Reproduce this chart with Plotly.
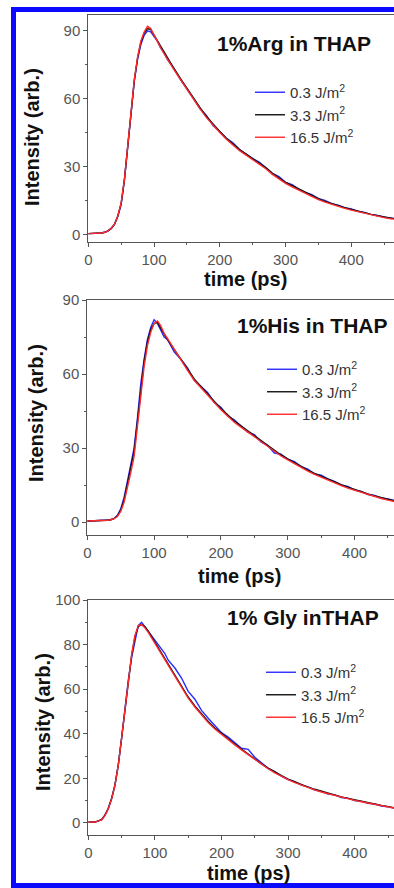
import plotly.graph_objects as go

# ---------------- data ----------------
time_ps = [0, 10, 20, 25, 30, 35, 40, 45, 50, 55, 60, 65, 70, 75, 80, 85, 90, 95, 100, 105,
           110, 115, 120, 130, 140, 150, 160, 170, 180, 190, 200, 210, 220, 230, 240, 250,
           260, 270, 280, 290, 300, 310, 320, 330, 340, 350, 360, 370, 380, 390, 400, 410,
           420, 430, 440, 450, 460, 470]

fluences = ["0.3 J/m<sup>2</sup>", "3.3 J/m<sup>2</sup>", "16.5 J/m<sup>2</sup>"]
colors = ["#2b2bff", "#111111", "#ff2a2a"]

panel_titles = ["1%Arg in THAP", "1%His in THAP", "1% Gly inTHAP"]

# 1% Arg in THAP
arg_03 = [0.3, 0.4, 0.6, 0.9, 1.5, 2.6, 4.6, 8.2, 13.5, 24.5, 39, 55.5, 68, 77.5, 84, 88, 90, 89.5, 87.5, 85.5,
          82.5, 80.5, 77.5, 73.5, 68.5, 64.5, 60, 55.5, 52.5, 48, 45.5, 42.5, 40.5, 37.5, 35.5, 33.5,
          32, 29.5, 27, 25.5, 23, 22, 20, 18.5, 17.5, 15.8, 15, 13.6, 12.9, 11.8, 11.2, 10.2,
          9.7, 8.8, 8.4, 7.6, 7.2, 6.8]
arg_33 = [0.3, 0.4, 0.6, 0.9, 1.5, 2.6, 4.5, 8, 13.5, 24, 39, 55, 68, 78, 85, 89, 91, 90.5, 88, 85.5,
          83, 80.5, 78, 73.5, 69, 64.5, 60, 56, 52, 48.5, 45.5, 42.5, 40, 37.5, 35.5, 33.5,
          31.5, 29.5, 27, 25, 23, 21.5, 20, 18.5, 17, 15.8, 14.6, 13.6, 12.7, 11.8, 11, 10.2,
          9.5, 8.8, 8.2, 7.6, 7.1, 6.7]
arg_165 = [0.3, 0.4, 0.6, 0.9, 1.5, 2.7, 4.6, 8.2, 14, 24.5, 39.5, 55.5, 68.5, 78.5, 85.5, 89.5, 92, 91, 88, 85.5,
           82.5, 80, 77.5, 73, 68.5, 64, 59.5, 55.5, 51.5, 48, 45, 42, 39.5, 37, 35, 33,
           31, 29, 26.5, 24.5, 22.5, 21, 19.5, 18, 16.5, 15.3, 14.2, 13.2, 12.3, 11.5, 10.7, 10,
           9.3, 8.6, 8, 7.4, 6.9, 6.5]

# 1% His in THAP
his_03 = [0.4, 0.5, 0.6, 0.7, 0.8, 1.0, 1.5, 2.8, 5.4, 10, 16.5, 23.5, 30, 42, 56, 66, 74, 79, 82, 80.5,
          78, 75, 74, 69, 66, 62.5, 57.5, 55, 52.5, 48.5, 46.5, 43, 41.5, 39, 36.5, 35.5,
          32.5, 31, 28, 27.5, 25.5, 24.5, 22.5, 21.5, 19.5, 19, 17.5, 16.5, 15, 14.5, 13, 12.5,
          11.2, 10.8, 9.8, 9.4, 8.6, 8.1]
his_33 = [0.5, 0.5, 0.6, 0.7, 0.8, 1.0, 1.4, 2.5, 4.8, 9, 15, 22, 28.5, 41, 54.5, 65, 73, 78, 80.5, 81,
          78.5, 76, 74, 70, 66, 62, 58, 55, 52, 48.8, 46, 43.5, 41, 39, 37, 35,
          33, 31, 29, 27.2, 25.6, 24, 22.5, 21.1, 19.8, 18.6, 17.4, 16.3, 15.2, 14.2, 13.2, 12.3,
          11.4, 10.6, 9.9, 9.2, 8.6, 8.0]
his_165 = [0.5, 0.5, 0.6, 0.7, 0.8, 1.0, 1.4, 2.3, 4.3, 8, 13.5, 20, 26.5, 38, 52, 63, 71.5, 77, 80.5, 81.5,
           79.5, 76.5, 74.5, 70, 65.5, 61.5, 57.5, 54.5, 51.5, 48.5, 45.5, 43, 40.5, 38.5, 36.5, 34.5,
           32.5, 30.5, 28.5, 26.8, 25.2, 23.6, 22.1, 20.7, 19.4, 18.2, 17, 15.9, 14.8, 13.8, 12.9, 12,
           11.1, 10.3, 9.6, 8.9, 8.3, 7.8]

# 1% Gly in THAP
gly_03 = [0.3, 0.4, 1.5, 3.5, 6.6, 11, 17, 26, 38, 51, 64, 74, 82, 88.5, 90, 88, 86.5, 84.5, 82, 80.5,
          78, 76, 73, 69.5, 65, 59, 55.5, 50.5, 47, 43.5, 40.5, 38.5, 36, 33.5, 33, 29.5,
          27, 24.5, 23, 21, 19.5, 18.5, 17, 16.2, 14.8, 14.2, 13, 12.6, 11.4, 11.1, 10, 9.7,
          8.8, 8.5, 7.6, 7.3, 6.5, 6.3]
gly_33 = [0.3, 0.4, 1.5, 3.5, 6.5, 11, 17, 26, 38, 51, 64, 75, 83.5, 88, 89, 88, 86, 83.5, 81, 78.5,
          76, 73.5, 71, 66.5, 61.5, 56.5, 52.5, 48.8, 45.5, 42.6, 40.1, 37.7, 35.4, 33.1, 30.9, 28.5,
          26.5, 24.6, 22.8, 21.2, 19.7, 18.4, 17.2, 16.1, 15.1, 14.2, 13.3, 12.5, 11.7, 11, 10.3, 9.7,
          9.1, 8.5, 7.9, 7.3, 6.7, 6.3]
gly_165 = [0.3, 0.4, 1.4, 3.3, 6.3, 10.8, 16.8, 25.8, 38, 51, 64.5, 75.5, 84, 88.5, 89, 87.5, 85.5, 83, 80.5, 78,
           75.5, 73, 70.5, 66, 61, 56, 52, 48.3, 45, 42.1, 39.6, 37.2, 35, 32.8, 30.6, 28.3,
           26.2, 24.3, 22.5, 20.9, 19.4, 18.1, 16.9, 15.8, 14.8, 13.9, 13.1, 12.3, 11.5, 10.8, 10.1, 9.5,
           8.9, 8.3, 7.7, 7.1, 6.6, 6.1]

panel_series = [
    [arg_03, arg_33, arg_165],
    [his_03, his_33, his_165],
    [gly_03, gly_33, gly_165],
]

y_ranges = [[-3.4, 97], [-5.2, 90], [-5.4, 100]]
x_ranges = [[0, 465], [0, 459], [0, 459]]
y_dticks = [30, 30, 20]

# ---------------- layout helpers (pixels -> paper) ----------------
W, H = 394, 888
def px(x):
    return x / W
def py(y):
    return 1 - y / H

plot_left = [88.3, 87.3, 88.3]
plot_top = [15, 300, 600]
plot_bottom = [242, 535, 835]

title_right = [373, 390, 381]
title_y = [43, 325, 617]
xtitle_pos = [(245, 279), (239, 576), (248, 873)]
ytitle_pos = [(32, 137), (36, 413), (43, 722)]
legend_pos = [(250, 76), (262, 353), (261, 656)]

fig = go.Figure()
legend_names = ["legend", "legend2", "legend3"]

for p in range(3):
    xa = "x" if p == 0 else f"x{p+1}"
    ya = "y" if p == 0 else f"y{p+1}"
    for s in range(3):
        fig.add_trace(go.Scatter(
            x=time_ps, y=panel_series[p][s], mode="lines",
            name=fluences[s], line=dict(color=colors[s], width=1.4),
            xaxis=xa, yaxis=ya, legend=legend_names[p], showlegend=True))

tick_font = dict(family="Liberation Sans, Arial, sans-serif", size=15, color="#555555")
axis_color = "#555555"

layout = dict(
    width=W, height=H,
    margin=dict(l=0, r=0, t=0, b=0, pad=0, autoexpand=False),
    paper_bgcolor="white", plot_bgcolor="white",
    showlegend=True,
)

for p in range(3):
    xk = "xaxis" if p == 0 else f"xaxis{p+1}"
    yk = "yaxis" if p == 0 else f"yaxis{p+1}"
    ya = "y" if p == 0 else f"y{p+1}"
    xa = "x" if p == 0 else f"x{p+1}"
    layout[xk] = dict(
        domain=[px(plot_left[p]), 1.0], anchor=ya, range=x_ranges[p],
        showline=True, linecolor=axis_color, linewidth=1, mirror=True,
        ticks="outside", ticklen=4, tickcolor=axis_color, dtick=100, tick0=0,
        minor=dict(dtick=50, ticks="outside", ticklen=2, tickcolor=axis_color),
        showgrid=False, zeroline=False, tickfont=tick_font, automargin=False,
    )
    layout[yk] = dict(
        domain=[py(plot_bottom[p]), py(plot_top[p])], anchor=xa, range=y_ranges[p],
        showline=True, linecolor=axis_color, linewidth=1, mirror=False,
        ticks="outside", ticklen=4, tickcolor=axis_color, dtick=y_dticks[p], tick0=0,
        minor=dict(dtick=y_dticks[p] / 2, ticks="outside", ticklen=2, tickcolor=axis_color),
        showgrid=False, zeroline=False, tickfont=tick_font, automargin=False,
    )
    lk = legend_names[p]
    layout[lk] = dict(
        x=px(legend_pos[p][0]), y=py(legend_pos[p][1]), xanchor="left", yanchor="top",
        bgcolor="rgba(0,0,0,0)", borderwidth=0,
        font=dict(family="Liberation Sans, Arial, sans-serif", size=15, color="#333333"),
        itemclick=False, tracegroupgap=0,
    )

fig.update_layout(**layout)

bold = "Liberation Sans, Arial, sans-serif"
for p in range(3):
    fig.add_annotation(text=f"<b>{panel_titles[p]}</b>", xref="paper", yref="paper",
                       x=px(title_right[p]), y=py(title_y[p]), xanchor="right", yanchor="middle",
                       showarrow=False, font=dict(family=bold, size=21, color="#111111"))
    fig.add_annotation(text="<b>time (ps)</b>", xref="paper", yref="paper",
                       x=px(xtitle_pos[p][0]), y=py(xtitle_pos[p][1]), xanchor="center", yanchor="middle",
                       showarrow=False, font=dict(family=bold, size=20, color="#111111"))
    fig.add_annotation(text="<b>Intensity (arb.)</b>", xref="paper", yref="paper", textangle=-90,
                       x=px(ytitle_pos[p][0]), y=py(ytitle_pos[p][1]), xanchor="center", yanchor="middle",
                       showarrow=False, font=dict(family=bold, size=20, color="#111111"))

# blue frame around the figure (right side runs off the image)
fig.add_shape(type="rect", xref="paper", yref="paper",
              x0=px(13.5), x1=1.2, y0=py(885.5), y1=py(9.5),
              line=dict(color="#0a0aff", width=5), fillcolor="rgba(0,0,0,0)", layer="above")

fig.write_html("out.html", config={"displayModeBar": False},
               post_script="document.body.style.margin='0';document.body.style.overflow='hidden';")
